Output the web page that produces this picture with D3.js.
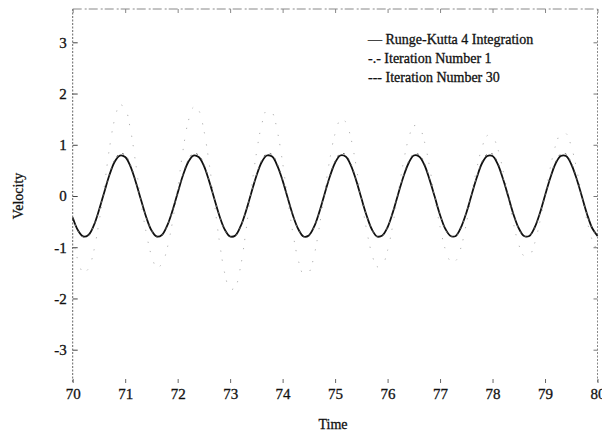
<!DOCTYPE html>
<html>
<head>
<meta charset="utf-8">
<script src="https://cdn.jsdelivr.net/npm/d3@7"></script>
<style>
  html, body { margin: 0; padding: 0; background: #fff; }
  svg { display: block; }
  text { font-family: "Liberation Serif", "Times New Roman", Times, serif; fill: #111; stroke: #111; stroke-width: 0.3px; }
</style>
</head>
<body>
<svg id="chart" width="602" height="435"></svg>
<script>
// Sample times (s)
const time = [
  70.0,70.1,70.2,70.3,70.4,70.5,70.6,70.7,70.8,70.9,
  71.0,71.1,71.2,71.3,71.4,71.5,71.6,71.7,71.8,71.9,
  72.0,72.1,72.2,72.3,72.4,72.5,72.6,72.7,72.8,72.9,
  73.0,73.1,73.2,73.3,73.4,73.5,73.6,73.7,73.8,73.9,
  74.0,74.1,74.2,74.3,74.4,74.5,74.6,74.7,74.8,74.9,
  75.0,75.1,75.2,75.3,75.4,75.5,75.6,75.7,75.8,75.9,
  76.0,76.1,76.2,76.3,76.4,76.5,76.6,76.7,76.8,76.9,
  77.0,77.1,77.2,77.3,77.4,77.5,77.6,77.7,77.8,77.9,
  78.0,78.1,78.2,78.3,78.4,78.5,78.6,78.7,78.8,78.9,
  79.0,79.1,79.2,79.3,79.4,79.5,79.6,79.7,79.8,79.9,
  80.0
];

// Reference solution from Runge-Kutta 4 integration
const rungeKutta = [
  -0.42,-0.67,-0.79,-0.76,-0.58,-0.28,0.07,0.41,0.67,0.79,
  0.76,0.58,0.28,-0.07,-0.41,-0.67,-0.79,-0.76,-0.58,-0.29,
  0.06,0.40,0.66,0.79,0.76,0.59,0.29,-0.06,-0.40,-0.66,
  -0.79,-0.77,-0.59,-0.30,0.05,0.39,0.66,0.79,0.77,0.59,
  0.30,-0.05,-0.39,-0.65,-0.79,-0.77,-0.60,-0.31,0.04,0.38,
  0.65,0.79,0.77,0.60,0.31,-0.04,-0.38,-0.65,-0.79,-0.77,
  -0.61,-0.32,0.03,0.37,0.64,0.79,0.77,0.61,0.32,-0.02,
  -0.37,-0.64,-0.78,-0.78,-0.61,-0.33,0.02,0.36,0.64,0.78,
  0.78,0.62,0.33,-0.01,-0.36,-0.63,-0.78,-0.78,-0.62,-0.34,
  0.01,0.35,0.63,0.78,0.78,0.62,0.34,0.00,-0.35,-0.63,
  -0.78
];

// First iteration of the scheme
const iteration1 = [
  -0.78,-1.26,-1.49,-1.42,-1.08,-0.52,0.17,0.93,1.50,1.78,
  1.71,1.30,0.64,-0.12,-0.71,-1.16,-1.39,-1.33,-1.02,-0.51,
  0.14,0.88,1.45,1.73,1.67,1.28,0.64,-0.13,-0.92,-1.52,
  -1.83,-1.77,-1.37,-0.69,0.11,0.83,1.39,1.68,1.63,1.26,
  0.65,-0.09,-0.75,-1.26,-1.53,-1.49,-1.16,-0.60,0.08,0.72,
  1.22,1.48,1.45,1.13,0.59,-0.06,-0.66,-1.13,-1.38,-1.35,
  -1.06,-0.56,0.05,0.65,1.12,1.37,1.35,1.07,0.57,-0.04,
  -0.60,-1.04,-1.27,-1.26,-1.00,-0.54,0.03,0.54,0.95,1.18,
  1.16,0.92,0.50,-0.02,-0.54,-0.95,-1.17,-1.17,-0.93,-0.51,
  0.01,0.55,0.98,1.22,1.22,0.97,0.54,0.00,-0.48,-0.86,
  -1.07
];

// Thirtieth iteration of the scheme
const iteration30 = [
  -0.42,-0.68,-0.80,-0.77,-0.58,-0.28,0.08,0.43,0.70,0.83,
  0.80,0.61,0.30,-0.07,-0.41,-0.67,-0.80,-0.77,-0.59,-0.29,
  0.07,0.42,0.70,0.83,0.80,0.62,0.31,-0.06,-0.40,-0.67,
  -0.80,-0.78,-0.60,-0.30,0.05,0.41,0.69,0.83,0.81,0.62,
  0.32,-0.05,-0.39,-0.66,-0.80,-0.78,-0.61,-0.31,0.04,0.40,
  0.68,0.83,0.81,0.63,0.33,-0.04,-0.38,-0.65,-0.80,-0.78,
  -0.61,-0.32,0.03,0.39,0.67,0.82,0.81,0.64,0.34,-0.02,
  -0.37,-0.65,-0.79,-0.78,-0.62,-0.33,0.02,0.38,0.67,0.82,
  0.82,0.65,0.35,-0.01,-0.36,-0.64,-0.79,-0.79,-0.63,-0.34,
  0.01,0.37,0.66,0.82,0.82,0.65,0.36,0.00,-0.35,-0.63,
  -0.79
];

const xTicks = [70, 71, 72, 73, 74, 75, 76, 77, 78, 79, 80];
const yTicks = [-3, -2, -1, 0, 1, 2, 3];
const legendLabels = [
  "\u2014 Runge-Kutta 4 Integration",
  "-.- Iteration Number 1",
  "--- Iteration Number 30"
];

const svg = d3.select("#chart");
const plotLeft = 72.7, plotRight = 597.5, plotTop = 9, plotBottom = 383;
const serif = '"Liberation Serif", "Times New Roman", serif';

const x = d3.scaleLinear().domain([70, 80]).range([plotLeft, plotRight]);
const y = d3.scaleLinear().domain([-3.65, 3.65]).range([plotBottom, plotTop]);

// Frame: faint broken lines, like a photocopied plot
const frame = svg.append("g").attr("fill", "none");
frame.append("line").attr("x1", plotLeft).attr("x2", plotLeft).attr("y1", plotTop).attr("y2", plotBottom)
  .attr("stroke", "#666").attr("stroke-width", 1).attr("stroke-dasharray", "2,1.5");
frame.append("line").attr("x1", plotRight).attr("x2", plotRight).attr("y1", plotTop).attr("y2", plotBottom)
  .attr("stroke", "#888").attr("stroke-width", 1).attr("stroke-dasharray", "2,1.5");
frame.append("line").attr("x1", plotLeft).attr("x2", plotRight).attr("y1", plotTop).attr("y2", plotTop)
  .attr("stroke", "#888").attr("stroke-width", 1).attr("stroke-dasharray", "9,3,2,2");

// Axes with inward ticks; plain hyphen for negative labels
const label = d => String(d);

const yAxis = d3.axisLeft(y).tickValues(yTicks).tickSize(-5).tickPadding(6).tickFormat(label);
const gy = svg.append("g").attr("transform", `translate(${plotLeft},0)`).call(yAxis);
gy.attr("font-family", serif);
gy.select(".domain").remove();
gy.selectAll(".tick line").attr("stroke", "#444");
gy.selectAll(".tick text").attr("font-size", 15).attr("fill", "#111");

const yAxisR = d3.axisRight(y).tickValues(yTicks).tickSize(-4).tickFormat("");
const gyr = svg.append("g").attr("transform", `translate(${plotRight},0)`).call(yAxisR);
gyr.select(".domain").remove();
gyr.selectAll(".tick line").attr("stroke", "#777");

const xAxis = d3.axisBottom(x).tickValues(xTicks).tickSize(-4).tickPadding(5).tickFormat(label);
const gx = svg.append("g").attr("transform", `translate(0,${plotBottom})`).call(xAxis);
gx.attr("font-family", serif);
gx.select(".domain").remove();
gx.selectAll(".tick line").attr("stroke", "#666");
gx.selectAll(".tick text").attr("font-size", 15).attr("fill", "#111");

const xAxisT = d3.axisTop(x).tickValues(xTicks).tickSize(-4).tickFormat("");
const gxt = svg.append("g").attr("transform", `translate(0,${plotTop})`).call(xAxisT);
gxt.select(".domain").remove();
gxt.selectAll(".tick line").attr("stroke", "#888");

// Axis titles
svg.append("text").attr("x", 333).attr("y", 429)
  .attr("text-anchor", "middle").attr("font-size", 14).text("Time");
svg.append("text")
  .attr("transform", `translate(23,${y(0)}) rotate(-90)`)
  .attr("text-anchor", "middle").attr("font-size", 14).text("Velocity");

// Series
const pts = vals => time.map((t, i) => [t, vals[i]]);
const line = d3.line().x(d => x(d[0])).y(d => y(d[1])).curve(d3.curveCatmullRom.alpha(0.5));

const plot = svg.append("g");
plot.append("path").datum(pts(iteration1)).attr("d", line)
  .attr("fill", "none").attr("stroke", "#b0b0b0").attr("stroke-width", 1)
  .attr("stroke-dasharray", "1.2,11,1.2,8");
plot.append("path").datum(pts(rungeKutta)).attr("d", line)
  .attr("fill", "none").attr("stroke", "#111").attr("stroke-width", 1.8);
plot.append("path").datum(pts(iteration30)).attr("d", line)
  .attr("fill", "none").attr("stroke", "#666").attr("stroke-width", 1)
  .attr("stroke-dasharray", "2,5");

// Legend (symbols are typed into the labels)
svg.append("g").selectAll("text").data(legendLabels).join("text")
  .attr("x", 368).attr("y", (d, i) => 44 + i * 19)
  .attr("font-size", 14).text(d => d);
</script>
</body>
</html>
